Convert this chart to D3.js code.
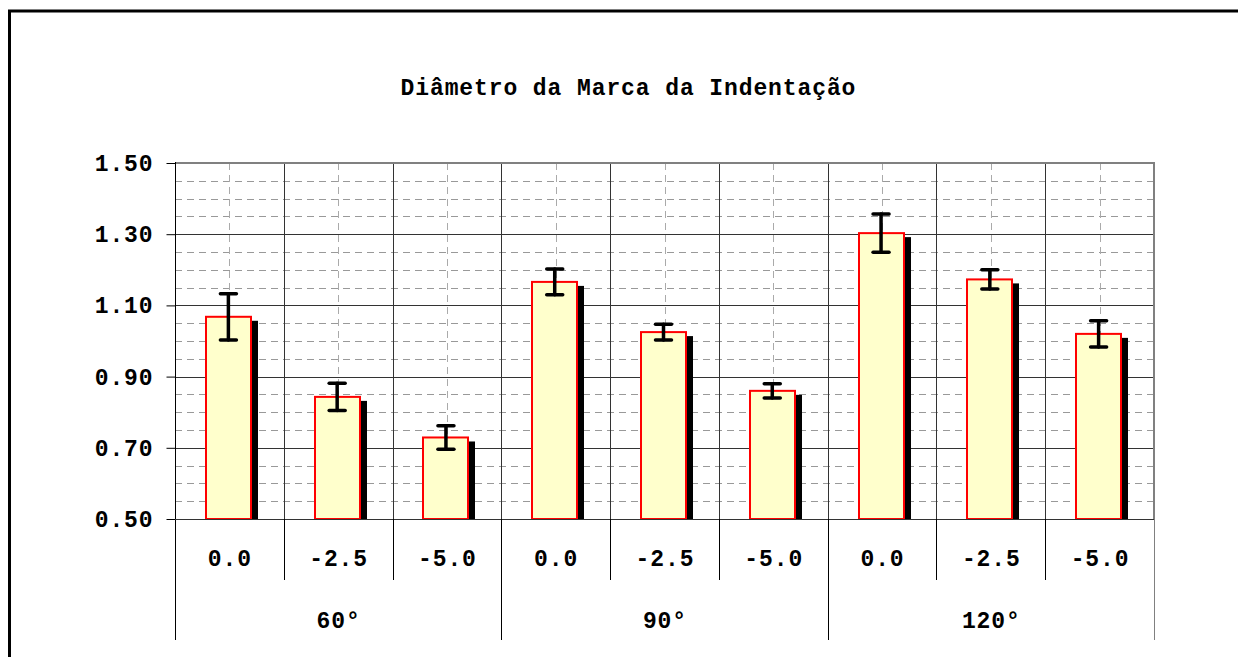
<!DOCTYPE html>
<html><head><meta charset="utf-8">
<script src="https://cdn.jsdelivr.net/npm/d3@7"></script>
<style>body{margin:0;background:#fff;overflow:hidden}svg{display:block}text{font-family:"Liberation Mono","Courier New",monospace;font-weight:bold;fill:#000}</style>
</head><body><svg id="c" width="1238" height="657"></svg>
<script>
const title = "Diâmetro da Marca da Indentação";
const groups = ["60°","90°","120°"];
const subcats = ["0.0","-2.5","-5.0"];
const means = [1.068,0.843,0.729,1.166,1.025,0.860,1.303,1.173,1.020];
const errs  = [0.065,0.038,0.033,0.036,0.022,0.020,0.054,0.027,0.037];
const yTicks = [0.50,0.70,0.90,1.10,1.30,1.50];

const svg = d3.select("#c");
const L=175,R=1154,T=163,B=519;
const FS=23, LS=0.9;
const y = d3.scaleLinear().domain([0.5,1.5]).range([B,T]);
const cats = d3.range(groups.length*subcats.length);
const x = d3.scaleBand().domain(cats).range([L,R]);
const bw = 45;

// outer border
svg.append("rect").attr("x",9.5).attr("y",11).attr("width",1300).attr("height",700)
  .attr("fill","none").attr("stroke","#000").attr("stroke-width",3);

// title
svg.append("text").attr("x",628+LS/2).attr("y",95).attr("text-anchor","middle")
  .attr("font-size",FS).attr("letter-spacing",LS).text(title);

// minor dashed horizontals
const minor = d3.range(0.55,1.5,0.05).filter(v=>Math.abs((v-0.5)/0.2-Math.round((v-0.5)/0.2))>0.01);
svg.append("g").selectAll("line").data(minor).join("line")
  .attr("x1",L).attr("x2",R).attr("y1",d=>Math.round(y(d))+0.5).attr("y2",d=>Math.round(y(d))+0.5)
  .attr("stroke","#999").attr("stroke-dasharray","7,5");
// dashed verticals at centers
svg.append("g").selectAll("line").data(cats).join("line")
  .attr("x1",d=>Math.round(x(d)+x.bandwidth()/2)+0.5).attr("x2",d=>Math.round(x(d)+x.bandwidth()/2)+0.5)
  .attr("y1",T).attr("y2",B).attr("stroke","#aaa").attr("stroke-dasharray","7,5");
// major horizontals
svg.append("g").selectAll("line").data(yTicks.slice(1,-1)).join("line")
  .attr("x1",L).attr("x2",R).attr("y1",d=>Math.round(y(d))+0.5).attr("y2",d=>Math.round(y(d))+0.5)
  .attr("stroke","#333");
// category boundaries
svg.append("g").selectAll("line").data(cats.slice(1)).join("line")
  .attr("x1",d=>Math.round(x(d))+0.5).attr("x2",d=>Math.round(x(d))+0.5)
  .attr("y1",T).attr("y2",B).attr("stroke","#333");
// plot top/right border
svg.append("line").attr("x1",L).attr("x2",R+1).attr("y1",T).attr("y2",T).attr("stroke","#808080").attr("stroke-width",2);
svg.append("line").attr("x1",R).attr("x2",R).attr("y1",T).attr("y2",B).attr("stroke","#808080").attr("stroke-width",2);

// bars
const bars = svg.append("g");
cats.forEach(i=>{
  const cx = x(i)+x.bandwidth()/2 - 1;
  const bx = Math.round(cx - bw/2);
  const by = y(means[i]);
  bars.append("rect").attr("x",bx+7).attr("y",by+4).attr("width",bw).attr("height",B-by-4).attr("fill","#000");
  bars.append("rect").attr("x",bx).attr("y",by).attr("width",bw).attr("height",B-by)
    .attr("fill","#FFFFCC").attr("stroke","#FF0000").attr("stroke-width",2);
});
// error bars
const eb = svg.append("g").attr("stroke","#000").attr("stroke-width",3.5).attr("stroke-linecap","round");
cats.forEach(i=>{
  const cx = x(i)+x.bandwidth()/2 - 1;
  const hi=y(means[i]+errs[i]), lo=y(means[i]-errs[i]);
  eb.append("line").attr("x1",cx).attr("x2",cx).attr("y1",hi).attr("y2",lo);
  eb.append("line").attr("x1",cx-8).attr("x2",cx+8).attr("y1",hi).attr("y2",hi);
  eb.append("line").attr("x1",cx-8).attr("x2",cx+8).attr("y1",lo).attr("y2",lo);
});

// y axis
const yAxis = d3.axisLeft(y).tickValues(yTicks).tickFormat(d3.format(".2f")).tickSize(9).tickPadding(13);
const ga = svg.append("g").attr("transform",`translate(${L+0.5},0)`).call(yAxis);
ga.select(".domain").remove();
ga.selectAll("line").attr("stroke","#000");
ga.selectAll("text").attr("font-size",FS).attr("letter-spacing",LS).attr("font-family",null).attr("dy","0.33em");
svg.append("line").attr("x1",L+0.5).attr("x2",L+0.5).attr("y1",T-1).attr("y2",640).attr("stroke","#000");

// x axis
svg.append("line").attr("x1",L).attr("x2",R).attr("y1",B+0.5).attr("y2",B+0.5).attr("stroke","#333");
const xg = svg.append("g");
cats.forEach(i=>{
  const inner = i % subcats.length !== 0;
  if(i>0){
    xg.append("line").attr("x1",Math.round(x(i))+0.5).attr("x2",Math.round(x(i))+0.5)
      .attr("y1",B).attr("y2",inner?580:640).attr("stroke","#000");
  }
  xg.append("text").attr("x",x(i)+x.bandwidth()/2+LS/2).attr("y",566).attr("text-anchor","middle")
    .attr("font-size",FS).attr("letter-spacing",LS).text(subcats[i%subcats.length]);
});
svg.append("line").attr("x1",R+0.5).attr("x2",R+0.5).attr("y1",B).attr("y2",640).attr("stroke","#808080");
groups.forEach((g,j)=>{
  const gx = (x(j*3) + x(j*3+2)+x.bandwidth())/2;
  xg.append("text").attr("x",gx+LS/2).attr("y",628).attr("text-anchor","middle")
    .attr("font-size",FS).attr("letter-spacing",LS).text(g);
});
</script></body></html>
